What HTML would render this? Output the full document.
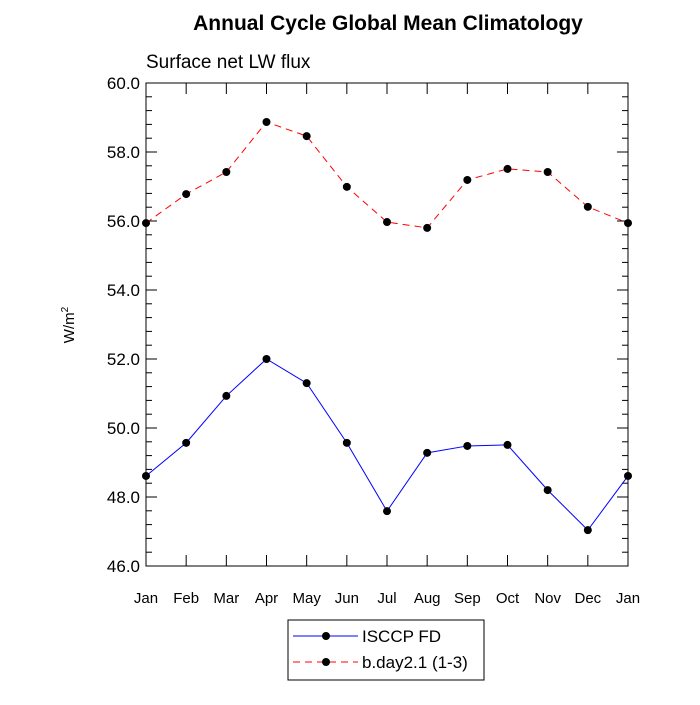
<!DOCTYPE html>
<html><head><meta charset="utf-8"><style>
body{margin:0;background:#fff;}
svg text{font-family:"Liberation Sans",sans-serif;}
</style></head><body>
<svg id="chart" width="700" height="700" xmlns="http://www.w3.org/2000/svg">
<text x="388" y="30" font-size="21" font-weight="bold" text-anchor="middle">Annual Cycle Global Mean Climatology</text>
<text x="146" y="68" font-size="19">Surface net LW flux</text>
<text transform="translate(74,325) rotate(-90)" font-size="15" text-anchor="middle">W/m<tspan font-size="10" dy="-6">2</tspan></text>
<g id="axes"></g>
<g id="series"></g>
<g>
<rect x="288" y="620" width="196" height="60" fill="#fff" stroke="#000"/>
<line x1="293" y1="636" x2="358" y2="636" stroke="#0000ff"/>
<circle cx="326" cy="636" r="4" fill="#000"/>
<text x="362" y="642" font-size="17">ISCCP FD</text>
<line x1="293" y1="662" x2="358" y2="662" stroke="#ff0000" stroke-dasharray="7,5"/>
<circle cx="326" cy="662" r="4" fill="#000"/>
<text x="362" y="668" font-size="17">b.day2.1 (1-3)</text>
</g>
</svg>
<script>
const months=["Jan","Feb","Mar","Apr","May","Jun","Jul","Aug","Sep","Oct","Nov","Dec","Jan"];
const isccp=[48.61,49.57,50.93,52.0,51.30,49.57,47.59,49.28,49.48,49.51,48.20,47.04,48.61];
const bday=[55.94,56.78,57.42,58.87,58.46,56.99,55.97,55.80,57.19,57.51,57.42,56.41,55.94];
const yTicks=[46,48,50,52,54,56,58,60];
const X0=146,X1=628,Y0=83,Y1=566,YMIN=46,YMAX=60;
const NS="http://www.w3.org/2000/svg";
const xs=i=>X0+(X1-X0)*i/(months.length-1);
const ys=v=>Y1-(v-YMIN)/(YMAX-YMIN)*(Y1-Y0);
function mk(t,a,p){const e=document.createElementNS(NS,t);for(const k in a)e.setAttribute(k,a[k]);p.appendChild(e);return e;}
const ax=document.getElementById('axes');
const frame=mk('rect',{x:X0,y:Y0,width:X1-X0,height:Y1-Y0,fill:'none',stroke:'#000'},ax);


for(let v=YMIN;v<=YMAX+0.001;v+=0.4){
  const major=Math.abs(v/2-Math.round(v/2))<0.01;const L=major?11:6;const y=ys(v);
  mk('line',{x1:X0,x2:X0+L,y1:y,y2:y,stroke:'#000'},ax);
  mk('line',{x1:X1,x2:X1-L,y1:y,y2:y,stroke:'#000'},ax);
}
yTicks.forEach(v=>{const t=mk('text',{x:X0-6,y:ys(v)+6,'font-size':17,'text-anchor':'end'},ax);t.textContent=v.toFixed(1);

});
months.forEach((m,i)=>{const x=xs(i);
  mk('line',{x1:x,x2:x,y1:Y1,y2:Y1-11,stroke:'#000'},ax);
  mk('line',{x1:x,x2:x,y1:Y0,y2:Y0+11,stroke:'#000'},ax);
  const t=mk('text',{x:x,y:Y1+37,'font-size':15,'text-anchor':'middle'},ax);t.textContent=m;
  
  });
const sg=document.getElementById('series');
function draw(vals,color,dash,name){
  const pl=mk('polyline',{points:vals.map((v,i)=>xs(i)+','+ys(v)).join(' '),fill:'none',stroke:color,'stroke-dasharray':dash},sg);
  
  
  vals.forEach((v,i)=>{const c=mk('circle',{cx:xs(i),cy:ys(v),r:4,fill:'#000'},sg);
    
    });
}
draw(isccp,'#0000ff','none','isccp');
draw(bday,'#ff0000','7,5','bday');
</script>
</body></html>
